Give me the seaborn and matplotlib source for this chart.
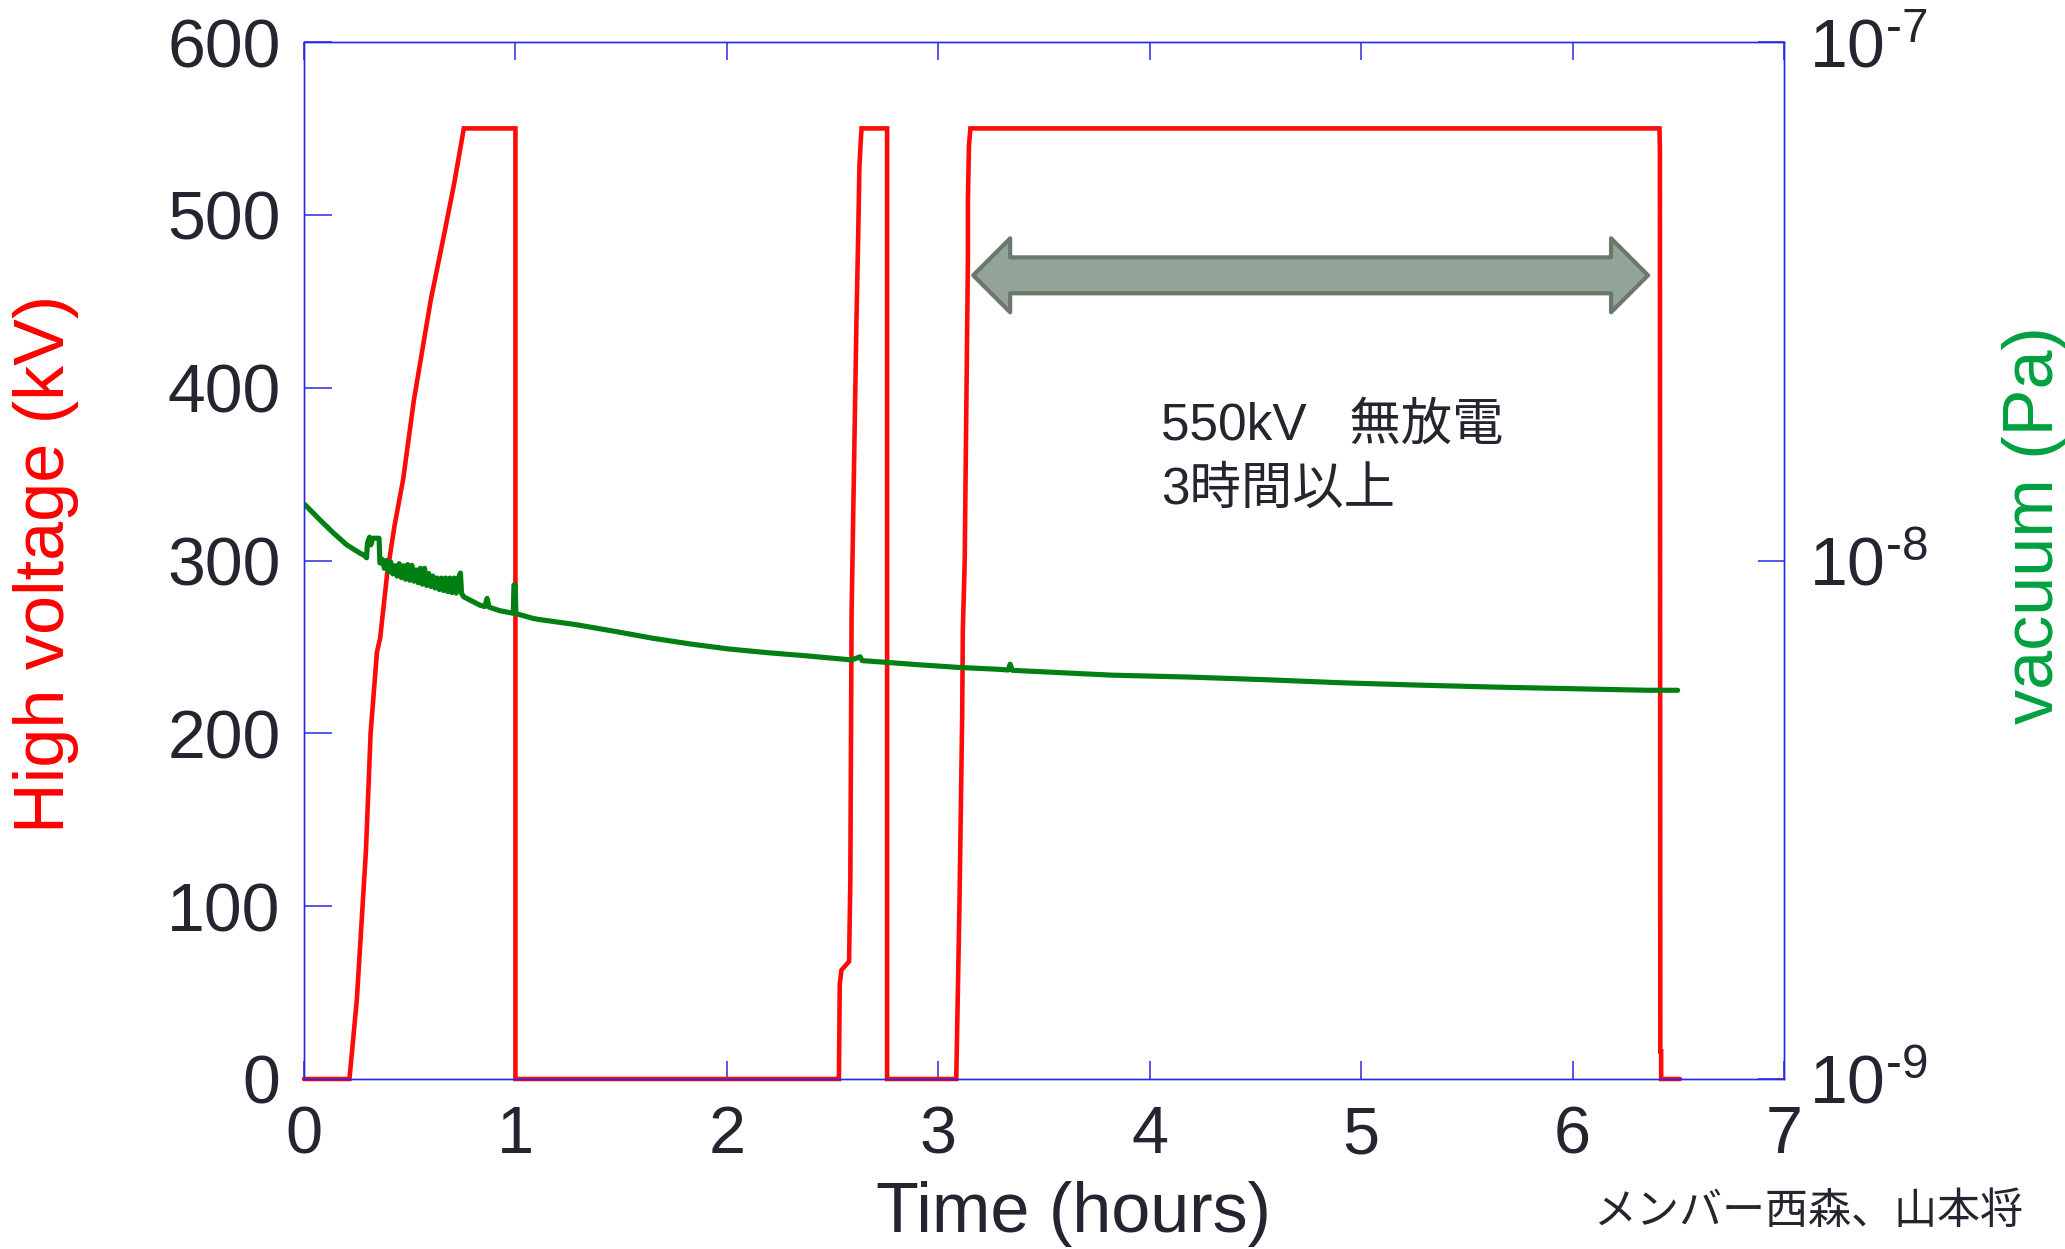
import matplotlib
matplotlib.use("Agg")
import matplotlib.pyplot as plt
import seaborn as sns
import pandas as pd
from matplotlib.patches import Polygon
from matplotlib.ticker import FixedLocator, NullLocator

# ---------------- data ----------------
# High voltage trace (hours, kV)
hv_time_h = [0.0, 0.215, 0.25, 0.293, 0.315, 0.345, 0.36, 0.394, 0.428, 0.469,
             0.52, 0.60, 0.665, 0.71, 0.756, 1.0, 1.0,
             2.53, 2.534, 2.542, 2.578, 2.584, 2.59, 2.613, 2.621, 2.627, 2.633, 2.637,
             2.758, 2.758,
             3.085, 3.10, 3.113, 3.116, 3.125, 3.14, 3.14, 3.145, 3.152,
             6.411, 6.413, 6.415, 6.419, 6.419, 6.508]
hv_kv = [0, 0, 46, 132, 200, 247, 255, 293, 320, 347,
         393, 451, 490, 518, 550, 550, 0,
         0, 55, 63, 68, 115, 270, 439, 487, 528, 542, 550,
         550, 0,
         0, 100, 210, 259, 300, 474, 508, 540, 550,
         550, 539, 16, 16, 0, 0]

# Vacuum trace (hours, pressure in units of 1e-9 Pa)
vac_time_h = [0.0, 0.013, 0.076, 0.139, 0.202, 0.265, 0.285, 0.296, 0.300, 0.310,
              0.316, 0.325, 0.355, 0.359, 0.37, 0.38, 0.39, 0.40, 0.41, 0.42,
              0.43, 0.44, 0.45, 0.46, 0.47, 0.48, 0.49, 0.50, 0.51, 0.52,
              0.53, 0.54, 0.55, 0.56, 0.57, 0.58, 0.59, 0.60, 0.61, 0.62,
              0.63, 0.64, 0.65, 0.66, 0.67, 0.68, 0.69, 0.70, 0.71, 0.72,
              0.73, 0.74, 0.745, 0.755, 0.77, 0.832, 0.855, 0.866, 0.875, 0.927,
              0.990, 0.993, 0.999, 1.002, 1.085, 1.107, 1.288, 1.47, 1.65, 1.83,
              2.01, 2.193, 2.374, 2.59, 2.63, 2.64, 2.735, 2.917, 3.096, 3.278,
              3.33, 3.34, 3.35, 3.459, 3.82, 4.18, 4.545, 4.906, 5.27, 5.63,
              5.99, 6.354, 6.497]
vac_npa = [12.85, 12.71, 11.97, 11.30, 10.72, 10.33, 10.23, 10.12, 10.81, 11.09,
           10.72, 11.04, 11.04, 9.89, 10.05, 9.66, 10.0, 9.51, 9.93, 9.42,
           9.77, 9.33, 9.86, 9.27, 9.77, 9.20, 9.82, 9.16, 9.79, 9.12,
           9.59, 9.06, 9.66, 9.00, 9.66, 8.95, 9.44, 8.91, 9.33, 8.85,
           9.25, 8.79, 9.25, 8.75, 9.25, 8.71, 9.25, 8.67, 9.25, 8.65,
           9.25, 9.46, 8.65, 8.51, 8.45, 8.20, 8.15, 8.45, 8.13, 8.00,
           7.91, 8.97, 8.97, 7.90, 7.73, 7.70, 7.52, 7.30, 7.08, 6.90,
           6.75, 6.64, 6.55, 6.43, 6.52, 6.41, 6.37, 6.29, 6.22, 6.17,
           6.15, 6.31, 6.14, 6.11, 6.01, 5.96, 5.89, 5.81, 5.75, 5.70,
           5.66, 5.62, 5.62]

x_ticks = [0, 1, 2, 3, 4, 5, 6, 7]
hv_ticks = [0, 100, 200, 300, 400, 500, 600]
vac_ticks = [1e-9, 1e-8, 1e-7]
vac_tick_labels = [r"$10^{\text{-}9}$", r"$10^{\text{-}8}$", r"$10^{\text{-}7}$"]

x_label = "Time (hours)"
hv_label = "High voltage (kV)"
vac_label = "vacuum (Pa)"
note_line1 = "550kV   無放電"
note_line2 = "3時間以上"
credit = "メンバー西森、山本将"

# annotation arrow (hours / kV)
arrow_x_start, arrow_x_end, arrow_y = 3.165, 6.357, 465

# ---------------- styling ----------------
sns.set_style("white")
plt.rcParams["font.family"] = ["Liberation Sans", "Noto Sans CJK JP", "DejaVu Sans"]
plt.rcParams["mathtext.fontset"] = "custom"
plt.rcParams["mathtext.rm"] = "Liberation Sans"
plt.rcParams["mathtext.it"] = "Liberation Sans:italic"
plt.rcParams["mathtext.bf"] = "Liberation Sans:bold"
plt.rcParams["mathtext.default"] = "regular"

TXT = "#25252f"
SPINE = "#2a2ae6"
RED = "#ff0a0a"
GREEN = "#007f12"

fig = plt.figure(figsize=(20.65, 12.49), dpi=100)
ax = fig.add_axes([304 / 2065, 1 - 1079 / 1249, 1480 / 2065, 1037 / 1249])

hv_df = pd.DataFrame({"time": hv_time_h, "kv": hv_kv})
sns.lineplot(data=hv_df, x="time", y="kv", ax=ax, sort=False, estimator=None,
             color=RED, linewidth=3.3, clip_on=False)
for l in ax.lines:
    l.set_solid_joinstyle("miter")

ax.set_xlim(0, 7)
ax.set_ylim(0, 600)
ax.xaxis.set_major_locator(FixedLocator(x_ticks))
ax.yaxis.set_major_locator(FixedLocator(hv_ticks))
ax.tick_params(axis="x", direction="in", length=13, width=1.1, color=SPINE,
               top=True, bottom=True, labelsize=48, labelcolor=TXT, pad=19)
ax.tick_params(axis="y", direction="in", length=20, width=1.1, color=SPINE,
               left=True, right=False, labelsize=49, labelcolor=TXT, pad=17)
for s in ax.spines.values():
    s.set_color(SPINE)
    s.set_linewidth(1.0)

ax.set_xlabel(x_label, fontsize=50.5, color=TXT)
ax.xaxis.set_label_coords(0.52, -0.098)
ax.set_ylabel(hv_label, fontsize=50.5, color="#ff0000")
ax.yaxis.set_label_coords(-0.152, 0.497)

# arrow
bh, hh, hl = 10.4, 21.4, 0.175
verts = [(arrow_x_start, arrow_y),
         (arrow_x_start + hl, arrow_y + hh),
         (arrow_x_start + hl, arrow_y + bh),
         (arrow_x_end - hl, arrow_y + bh),
         (arrow_x_end - hl, arrow_y + hh),
         (arrow_x_end, arrow_y),
         (arrow_x_end - hl, arrow_y - hh),
         (arrow_x_end - hl, arrow_y - bh),
         (arrow_x_start + hl, arrow_y - bh),
         (arrow_x_start + hl, arrow_y - hh)]
ax.add_patch(Polygon(verts, closed=True, facecolor="#94a397", edgecolor="#6b786e",
                     linewidth=3.0, joinstyle="round", zorder=4))

note_font = ["Liberation Sans", "Noto Sans CJK JP"]
ax.text(4.055, 370, note_line1, fontsize=37, color=TXT, family=note_font,
        ha="left", va="baseline")
ax.text(4.055, 333, note_line2, fontsize=37, color=TXT, family=note_font,
        ha="left", va="baseline")

# vacuum axis
ax2 = ax.twinx()
ax2.set_yscale("log")
vac_df = pd.DataFrame({"time": vac_time_h, "pa": [v * 1e-9 for v in vac_npa]})
sns.lineplot(data=vac_df, x="time", y="pa", ax=ax2, sort=False, estimator=None,
             color=GREEN, linewidth=3.7)
ax2.set_xlim(0, 7)
ax2.set_ylim(1e-9, 1e-7)
ax2.yaxis.set_major_locator(FixedLocator(vac_ticks))
ax2.yaxis.set_minor_locator(NullLocator())
ax2.set_yticklabels(vac_tick_labels)
ax2.tick_params(axis="y", direction="in", length=19, width=1.1, color=SPINE,
                right=True, left=False, labelsize=49, labelcolor=TXT, pad=18)
for s in ax2.spines.values():
    s.set_color(SPINE)
    s.set_linewidth(1.0)
ax2.set_ylabel(vac_label, fontsize=50.5, color="#00a040", rotation=90)
ax2.yaxis.set_label_coords(1.147, 0.534)
ax2.yaxis.label.set_verticalalignment("top")

fig.text(1593 / 2065, 1 - 1212 / 1249, credit, fontsize=31, color=TXT,
         family=["Noto Sans CJK JP"], ha="left", va="center")

fig.savefig("out.png", dpi=100)
